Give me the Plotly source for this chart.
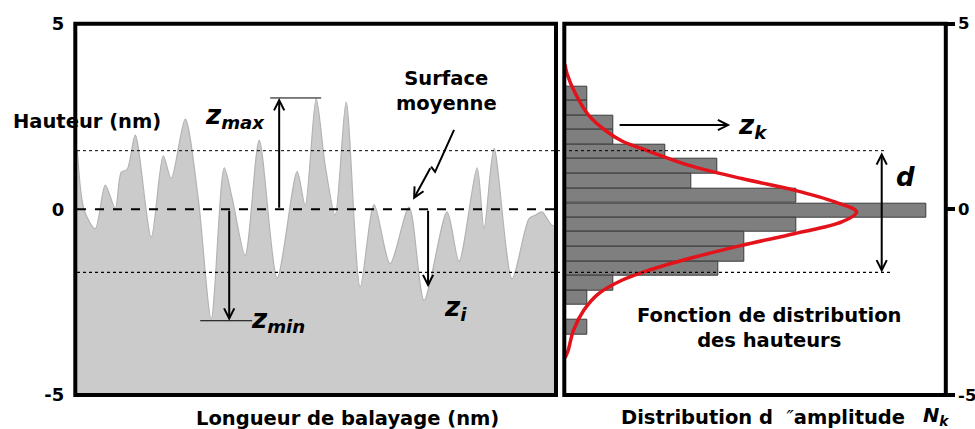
import plotly.graph_objects as go

# Profil de rugosité (panneau gauche)
prof_x = [2, 9, 20, 30, 40, 46, 52, 60, 76, 88, 96, 110, 123, 136, 149, 157, 170, 184,
          202, 222, 230, 241, 250, 260, 271, 285, 299, 315, 334, 349, 372, 384, 402,
          409, 419, 437, 454, 460, 467, 472, 477, 481]
prof_z = [1.59, -0.03, -0.52, 0.65, 0.02, 1.0, 1.08, 2.0, -0.75, 1.44, 0.83, 2.43, 0.3,
          -2.95, 1.12, 0.3, -1.24, 1.86, -1.85, 1.02, 0.11, 2.98, 1.19, -0.16, 2.89,
          -2.09, 0.13, -1.46, 0.06, -2.45, -0.07, -1.4, 1.12, -0.52, 1.64, -1.87,
          -0.25, -0.16, -0.07, -0.25, -0.43, -0.45]

# Histogramme des hauteurs (panneau droit)
hist_z = [3.12, 2.73, 2.34, 1.94, 1.55, 1.16, 0.76, 0.37, -0.03, -0.42, -0.81, -1.21,
          -1.60, -1.99, -2.38, -3.17]
hist_n = [6.0, 6.0, 12.8, 12.8, 26.6, 40.2, 33.4, 60.7, 94.8, 60.7, 47.1, 47.1, 40.4,
          12.8, 6.0, 6.0]

# Fonction de distribution (courbe rouge)
dist_n = [0.2, 0.7, 2.9, 6.4, 10.7, 15.1, 22.1, 32.5, 46.5, 60.5, 70.9, 76.6, 72.7,
          60.5, 46.5, 32.5, 22.1, 15.1, 9.0, 5.1, 2.4, 1.0, 0.2]
dist_z = [3.9, 3.66, 3.12, 2.53, 2.13, 1.84, 1.57, 1.19, 0.83, 0.51, 0.20, -0.07, -0.34,
          -0.65, -0.97, -1.33, -1.64, -1.91, -2.27, -2.72, -3.26, -3.80, -4.0]

ticks_z = [-5, 0, 5]
z_moy, z_haut, z_bas = 0, 1.58, -1.70
z_max, z_min, z_i, z_k = 3.0, -3.0, -2.1, 2.27

W, H = 975, 429
FONT = "DejaVu Sans"


def px(x):
    return x / W


def py(y):
    return 1 - y / H


fig = go.Figure()

fig.add_trace(go.Scatter(x=[0, 481], y=[-5, -5], mode="lines", line=dict(width=0),
                         xaxis="x", yaxis="y", hoverinfo="skip"))
fig.add_trace(go.Scatter(x=prof_x, y=prof_z, mode="lines", fill="tonexty",
                         fillcolor="#cbcbcb",
                         line=dict(color="#b3b3b3", width=1.2, shape="spline", smoothing=0.8),
                         xaxis="x", yaxis="y"))

fig.add_trace(go.Bar(x=hist_n, y=hist_z, orientation="h", width=0.39,
                     marker=dict(color="#7f7f7f", line=dict(color="#3a3a3a", width=1)),
                     xaxis="x2", yaxis="y2"))
fig.add_trace(go.Scatter(x=dist_n, y=dist_z, mode="lines",
                         line=dict(color="#e3121b", width=3.5, shape="spline"),
                         xaxis="x2", yaxis="y2"))

ydom = [py(395), py(23.7)]
fig.update_layout(
    width=W, height=H, showlegend=False,
    margin=dict(l=0, r=0, t=0, b=0, autoexpand=False),
    paper_bgcolor="white", plot_bgcolor="white",
    font=dict(family=FONT, color="black"),
    xaxis=dict(domain=[px(75.3), px(556)], range=[0, 481], visible=False),
    yaxis=dict(domain=ydom, range=[-5, 5], tickvals=ticks_z, automargin=False,
               ticktext=["<b>%d</b>" % t for t in ticks_z], showgrid=False,
               zeroline=False, showline=False, ticks="", ticklabelstandoff=10,
               tickfont=dict(size=18, family=FONT)),
    xaxis2=dict(domain=[px(564.3), px(945.8)], range=[0, 100], visible=False,
                anchor="y2"),
    yaxis2=dict(domain=ydom, range=[-5, 5], anchor="x2", side="right", automargin=False,
                tickvals=ticks_z, ticktext=["<b>%d</b>" % t for t in ticks_z],
                showgrid=False, zeroline=False, showline=False, ticks="outside",
                ticklen=8, tickwidth=4, tickcolor="black",
                tickfont=dict(size=16.5, family=FONT)),
    bargap=0,
)

shapes = []
# cadres
for x0, x1 in [(75.3, 556), (564.3, 945.8)]:
    shapes.append(dict(type="rect", xref="paper", yref="paper", x0=px(x0), x1=px(x1),
                       y0=py(395), y1=py(23.7), line=dict(color="black", width=4)))
# surface moyenne et lignes pointillées
shapes.append(dict(type="line", xref="paper", yref="y", x0=px(77), x1=px(554),
                   y0=z_moy, y1=z_moy, line=dict(color="black", width=2, dash="dash")))
shapes.append(dict(type="line", xref="paper", yref="y", x0=px(77), x1=px(885),
                   y0=z_haut, y1=z_haut, line=dict(color="black", width=1, dash="dot")))
shapes.append(dict(type="line", xref="paper", yref="y", x0=px(77), x1=px(892),
                   y0=z_bas, y1=z_bas, line=dict(color="black", width=1.3, dash="dot")))
# traits zmax / zmin
shapes.append(dict(type="line", xref="x", yref="y", x0=195, x1=246, y0=z_max, y1=z_max,
                   line=dict(color="black", width=1)))
shapes.append(dict(type="line", xref="x", yref="y", x0=125, x1=177, y0=z_min, y1=z_min,
                   line=dict(color="black", width=1)))
# flèche en éclair
shapes.append(dict(type="path", xref="x", yref="y",
                   path="M 379 2.14 L 360 1.01 L 356 1.15",
                   line=dict(color="black", width=2)))
fig.update_layout(shapes=shapes)


def arrow(x, y, ax, ay, xref="x", yref="y", both=False):
    fig.add_annotation(x=x, y=y, ax=ax, ay=ay, xref=xref, yref=yref, axref=xref,
                       ayref=yref, text="", showarrow=True, arrowhead=5, arrowsize=1,
                       arrowwidth=2, arrowcolor="black", standoff=0, startstandoff=0,
                       arrowside="end+start" if both else "end", startarrowhead=5,
                       startarrowsize=1)


arrow(204, z_max, 204, 0)
arrow(154, z_min, 154, 0)
arrow(353, z_i, 353, 0)
arrow(338, 0.26, 356, 1.15)
arrow(43.5, z_k, 14.1, z_k, "x2", "y2")
arrow(83.2, z_bas, 83.2, z_haut, "x2", "y2", both=True)


def label(text, x, y, size=19.5, xanchor="center"):
    fig.add_annotation(text=text, x=px(x), y=py(y), xref="paper", yref="paper",
                       showarrow=False, xanchor=xanchor, yanchor="middle",
                       font=dict(size=size, family=FONT, color="black"))


label("<b>Hauteur (nm)</b>", 11, 121, xanchor="left")
label("<b>Surface</b><br><b>moyenne</b>", 446, 91)
label("<b>Longueur de balayage (nm)</b>", 347, 418)
label("<b>Fonction de distribution</b><br><b>des hauteurs</b>", 769, 328)
label("<b>Distribution d  </b><i>″</i><b>amplitude</b>", 619, 417, xanchor="left")
label("<b><i>N</i></b><sub><b><i>k</i></b></sub>", 921, 416, xanchor="left")
label("<b><i>z</i></b><sub><b><i>max</i></b></sub>", 203, 117, size=26, xanchor="left")
label("<b><i>z</i></b><sub><b><i>min</i></b></sub>", 249, 320, size=26, xanchor="left")
label("<b><i>z</i></b><sub><b><i>i</i></b></sub>", 442, 308, size=26, xanchor="left")
label("<b><i>z</i></b><sub><b><i>k</i></b></sub>", 736, 126, size=26, xanchor="left")
label("<b><i>d</i></b>", 905, 177, size=26)

# la page HTML ajoute une marge de 8 px autour du graphique : on la supprime
fig.write_html("out.html", config={"displayModeBar": False},
               post_script="document.body.style.margin = '0';")
